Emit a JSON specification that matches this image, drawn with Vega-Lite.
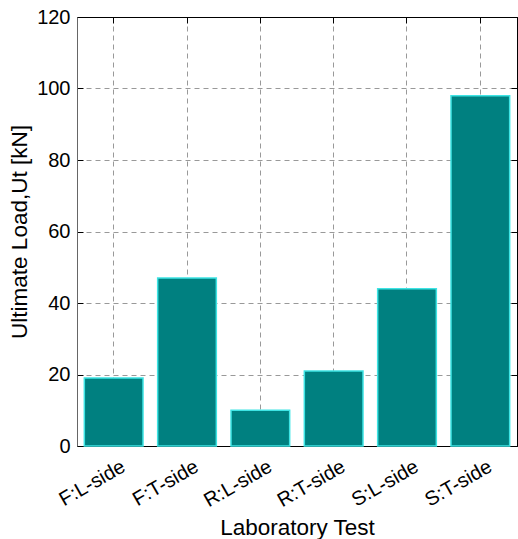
{
  "$schema": "https://vega.github.io/schema/vega-lite/v6.json",
  "width": 440,
  "height": 429,
  "autosize": "none",
  "padding": {"left": 77, "top": 17, "right": 1, "bottom": 93},
  "config": {
    "font": "Liberation Sans",
    "view": {"stroke": "black", "strokeWidth": 1},
    "axis": {
      "labelFont": "Liberation Sans",
      "titleFont": "Liberation Sans",
      "labelFontSize": 20,
      "titleFontSize": 22.5,
      "titleFontWeight": "normal",
      "labelColor": "black",
      "titleColor": "black",
      "domainColor": "black",
      "tickColor": "black",
      "tickSize": -6,
      "gridColor": "#999999",
      "gridDash": [5, 4],
      "gridWidth": 1,
      "gridOpacity": 1
    }
  },
  "data": {
    "values": [
      {"test": "F:L-side", "load": 19},
      {"test": "F:T-side", "load": 47},
      {"test": "R:L-side", "load": 10},
      {"test": "R:T-side", "load": 21},
      {"test": "S:L-side", "load": 44},
      {"test": "S:T-side", "load": 98}
    ]
  },
  "resolve": {"axis": {"x": "independent", "y": "independent"}},
  "layer": [
    {
      "mark": {"type": "bar", "fill": "#008080", "stroke": "#3ee4e4", "strokeWidth": 1.5},
      "encoding": {
        "x": {
          "field": "test", "type": "nominal", "sort": null,
          "scale": {"paddingInner": 0.2, "paddingOuter": 0.1},
          "axis": {"title": "Laboratory Test", "labelAngle": -30, "labelAlign": "right", "labelBaseline": "top", "labelPadding": 16, "labelOffset": 5, "titlePadding": 6, "grid": true, "domain": true}
        },
        "y": {
          "field": "load", "type": "quantitative",
          "scale": {"domain": [0, 120], "nice": false},
          "axis": {"title": "Ultimate Load,Ut [kN]", "values": [0, 20, 40, 60, 80, 100, 120], "labelPadding": 13, "titlePadding": 5, "grid": true, "domainColor": "#666666"}
        }
      }
    },
    {
      "mark": {"type": "bar", "opacity": 0},
      "encoding": {
        "x": {
          "field": "test", "type": "nominal", "sort": null,
          "axis": {"orient": "top", "title": null, "labels": false, "grid": false}
        },
        "y": {
          "field": "load", "type": "quantitative",
          "axis": {"orient": "right", "title": null, "labels": false, "grid": false, "values": [0, 20, 40, 60, 80, 100, 120]}
        }
      }
    }
  ]
}
